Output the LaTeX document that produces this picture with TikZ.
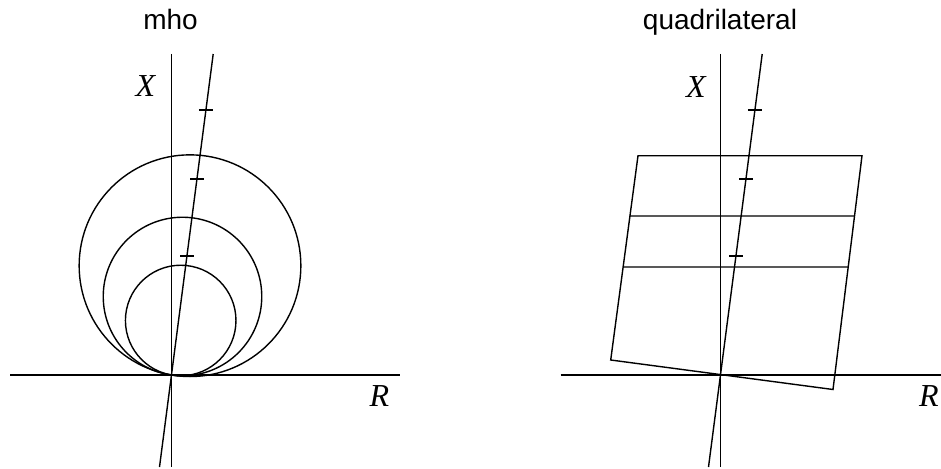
\documentclass[tikz,border=0pt]{standalone}
\usepackage{fontspec}
\setmainfont{Liberation Serif}
\newfontfamily\titlefont{Liberation Sans}
\usetikzlibrary{calc}
\begin{document}
\begin{tikzpicture}[x=1pt,y=-1pt,
  every path/.style={line width=1.4pt, line cap=butt},
  titletext/.style={font=\titlefont\fontsize{28}{32}\selectfont, anchor=base, inner sep=0pt},
  axislabel/.style={font=\fontsize{32}{38}\selectfont\itshape, inner sep=0pt},
  tickmark/.style={line width=1.4pt}]
\useasboundingbox (0,0) rectangle (941,468);

% ---------- left: mho ----------
\node[titletext] (t1) at (170.5,30) {mho};
\coordinate (O1) at (171.5,375);
\coordinate (v1t) at (171.5,54);
\coordinate (v1b) at (171.5,467);
\coordinate (h1l) at (10,375);
\coordinate (h1r) at (400,375);
\coordinate (s1t) at (213.2,54);
\coordinate (s1b) at (159.5,467);
\draw (v1t) -- (v1b);
\draw (h1l) -- (h1r);
\draw (s1b) -- (s1t);
\node[axislabel] (x1) at (145.5,86.5) {X};
\node[axislabel] (r1) at (379.5,396.5) {R};
% circles through the origin
\coordinate (c1) at (190,265.7);
\coordinate (c2) at (182.5,296.5);
\coordinate (c3) at (180.7,320.5);
\draw (c1) circle[radius=110.85];
\draw (c2) circle[radius=79.27];
\draw (c3) circle[radius=55.27];
% ticks
\coordinate (k11) at (205.95,110);
\coordinate (k12) at (197.0,179);
\coordinate (k13) at (187.0,256);
\foreach \k in {k11,k12,k13}{\draw[tickmark] ($(\k)+(-7,0)$) -- ($(\k)+(7,0)$);}

% ---------- right: quadrilateral ----------
\node[titletext] (t2) at (720,30) {quadrilateral};
\coordinate (O2) at (720.5,375);
\coordinate (v2t) at (720.5,54);
\coordinate (v2b) at (720.5,467);
\coordinate (h2l) at (560.7,375);
\coordinate (h2r) at (941,375);
\coordinate (s2t) at (762.2,54);
\coordinate (s2b) at (708.5,467);
\draw (v2t) -- (v2b);
\draw (h2l) -- (h2r);
\draw (s2b) -- (s2t);
\node[axislabel] (x2) at (696,87) {X};
\node[axislabel] (r2) at (929,396.5) {R};
% quadrilateral
\coordinate (q1) at (638,155.7);
\coordinate (q2) at (862,155.7);
\coordinate (q3) at (833,389.5);
\coordinate (q4) at (610.7,360);
\draw[line join=miter] (q1) -- (q2) -- (q3) -- (q4) -- cycle;
\coordinate (m1l) at ($(q1)!0.295!(q4)$);
\coordinate (m1r) at ($(q2)!0.258!(q3)$);
\coordinate (m2l) at ($(q1)!0.545!(q4)$);
\coordinate (m2r) at ($(q2)!0.476!(q3)$);
\draw (m1l) -- (m1r);
\draw (m2l) -- (m2r);
% ticks
\coordinate (k21) at (754.95,110);
\coordinate (k22) at (746.0,179);
\coordinate (k23) at (736.0,256);
\foreach \k in {k21,k22,k23}{\draw[tickmark] ($(\k)+(-7,0)$) -- ($(\k)+(7,0)$);}
\end{tikzpicture}
\end{document}
